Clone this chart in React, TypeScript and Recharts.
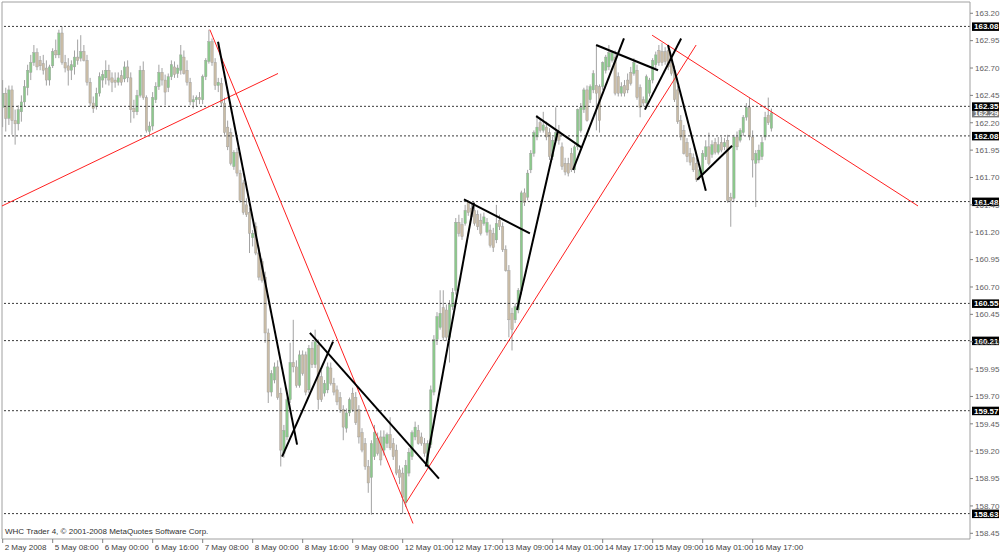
import React from 'react';
import { ComposedChart, Bar, XAxis, YAxis, ReferenceLine } from 'recharts';

type Ohlc = [number, number, number, number];

// hourly candles, [open, high, low, close]
const may2: Ohlc[] = [
  [162.34, 162.59, 162.16, 162.47], [162.47, 162.52, 162.12, 162.24], [162.24, 162.54, 162.18, 162.50],
  [162.50, 162.54, 162.09, 162.22], [162.22, 162.32, 162.00, 162.19], [162.19, 162.36, 162.13, 162.32],
  [162.30, 162.45, 162.21, 162.39], [162.39, 162.59, 162.35, 162.53],
];
const may5: Ohlc[] = [
  [162.52, 162.73, 162.45, 162.68], [162.66, 162.82, 162.59, 162.75], [162.75, 162.91, 162.72, 162.84],
  [162.84, 162.88, 162.68, 162.71], [162.77, 162.81, 162.68, 162.72], [162.74, 162.82, 162.64, 162.68],
  [162.70, 162.77, 162.54, 162.59], [162.59, 162.73, 162.54, 162.71], [162.72, 162.88, 162.70, 162.85],
  [162.86, 162.96, 162.79, 162.82], [162.82, 163.05, 162.79, 163.02], [163.02, 163.08, 162.73, 162.75],
  [162.75, 162.82, 162.66, 162.70], [162.72, 162.79, 162.54, 162.68], [162.68, 162.77, 162.59, 162.73],
  [162.71, 162.86, 162.64, 162.80], [162.80, 162.96, 162.73, 162.77], [162.79, 163.00, 162.76, 162.85],
  [162.85, 162.91, 162.76, 162.77], [162.77, 162.82, 162.54, 162.57], [162.57, 162.61, 162.35, 162.38],
  [162.38, 162.44, 162.29, 162.33], [162.35, 162.52, 162.32, 162.47], [162.47, 162.66, 162.44, 162.62],
];
const may6: Ohlc[] = [
  [162.59, 162.68, 162.52, 162.64], [162.61, 162.77, 162.55, 162.68], [162.68, 162.73, 162.54, 162.59],
  [162.61, 162.66, 162.48, 162.57], [162.59, 162.66, 162.52, 162.57], [162.57, 162.66, 162.54, 162.61],
  [162.63, 162.68, 162.54, 162.57], [162.60, 162.76, 162.57, 162.71], [162.71, 162.77, 162.57, 162.61],
  [162.61, 162.66, 162.20, 162.32], [162.33, 162.41, 162.24, 162.30], [162.30, 162.50, 162.27, 162.45],
  [162.45, 162.72, 162.43, 162.68], [162.68, 162.76, 162.41, 162.43], [162.43, 162.45, 162.11, 162.13],
  [162.12, 162.21, 162.09, 162.17], [162.17, 162.48, 162.13, 162.43], [162.41, 162.57, 162.38, 162.53],
  [162.53, 162.73, 162.50, 162.66], [162.66, 162.70, 162.54, 162.59], [162.59, 162.64, 162.36, 162.48],
  [162.52, 162.65, 162.48, 162.62], [162.62, 162.77, 162.59, 162.73], [162.71, 162.76, 162.61, 162.64],
];
const may7: Ohlc[] = [
  [162.65, 162.73, 162.61, 162.70], [162.68, 162.91, 162.64, 162.82], [162.80, 162.86, 162.64, 162.65],
  [162.68, 162.77, 162.54, 162.57], [162.57, 162.61, 162.36, 162.39], [162.39, 162.45, 162.33, 162.41],
  [162.41, 162.45, 162.35, 162.43], [162.43, 162.48, 162.37, 162.41], [162.41, 162.64, 162.37, 162.62],
  [162.62, 162.79, 162.59, 162.77], [162.76, 163.05, 162.74, 162.94], [162.94, 162.97, 162.72, 162.75],
  [162.75, 162.79, 162.50, 162.54], [162.54, 162.61, 162.48, 162.57], [162.56, 162.61, 162.35, 162.38],
  [162.38, 162.43, 162.09, 162.11], [162.16, 162.22, 161.95, 161.98], [162.11, 162.15, 161.81, 161.83],
  [161.80, 161.95, 161.77, 161.93], [161.93, 161.97, 161.71, 161.74], [161.74, 161.77, 161.47, 161.49],
  [161.65, 161.68, 161.36, 161.38], [161.45, 161.51, 161.34, 161.36], [161.38, 161.42, 161.01, 161.19],
];
const may8: Ohlc[] = [
  [161.15, 161.22, 161.07, 161.19], [161.25, 161.29, 160.99, 161.01], [161.01, 161.06, 160.76, 160.79],
  [160.93, 160.96, 160.74, 160.76], [160.79, 160.84, 160.19, 160.28], [160.28, 160.32, 159.64, 159.74],
  [159.74, 159.94, 159.70, 159.91], [159.85, 160.01, 159.82, 159.97], [159.97, 160.03, 159.67, 159.69],
  [159.73, 159.78, 159.06, 159.21], [159.18, 159.44, 159.14, 159.39], [159.33, 159.69, 159.30, 159.67],
  [159.67, 160.19, 159.64, 160.01], [160.01, 160.40, 159.92, 159.97], [159.97, 160.03, 159.78, 159.80],
  [159.80, 160.12, 159.78, 160.08], [160.08, 160.12, 159.89, 159.91], [160.08, 160.11, 159.71, 159.74],
  [159.76, 160.17, 159.73, 160.14], [160.14, 160.20, 159.96, 159.99], [159.99, 160.31, 159.96, 160.20],
  [160.17, 160.22, 159.58, 159.67], [159.88, 159.94, 159.65, 159.67], [159.73, 159.85, 159.70, 159.82],
];
const may9: Ohlc[] = [
  [159.76, 160.01, 159.73, 159.97], [159.96, 160.01, 159.80, 159.82], [159.82, 159.87, 159.71, 159.74],
  [159.76, 159.80, 159.62, 159.65], [159.69, 159.74, 159.55, 159.58], [159.58, 159.62, 159.30, 159.42],
  [159.41, 159.59, 159.37, 159.55], [159.55, 159.69, 159.52, 159.67], [159.73, 159.78, 159.56, 159.58],
  [159.69, 159.74, 159.44, 159.46], [159.58, 159.62, 159.27, 159.33], [159.37, 159.41, 159.19, 159.21],
  [159.27, 159.32, 159.03, 159.06], [159.06, 159.12, 158.82, 158.91], [158.96, 159.30, 158.62, 159.27],
  [159.15, 159.44, 159.12, 159.37], [159.32, 159.37, 159.16, 159.18], [159.33, 159.39, 159.07, 159.12],
  [159.21, 159.39, 159.16, 159.33], [159.27, 159.37, 159.23, 159.35], [159.35, 159.51, 159.21, 159.23],
  [159.27, 159.32, 159.12, 159.15], [159.21, 159.26, 158.98, 159.00], [159.03, 159.07, 158.90, 158.96],
];
const may12: Ohlc[] = [
  [159.00, 159.05, 158.63, 158.78], [158.73, 159.12, 158.69, 159.07], [159.00, 159.23, 158.97, 159.19],
  [159.15, 159.39, 159.12, 159.37], [159.33, 159.47, 159.30, 159.42], [159.39, 159.44, 159.26, 159.27],
  [159.33, 159.37, 159.25, 159.27], [159.27, 159.32, 159.15, 159.18], [159.07, 159.30, 159.05, 159.27],
  [159.26, 159.80, 159.23, 159.76], [159.74, 160.26, 159.71, 160.22], [160.22, 160.47, 160.17, 160.43],
  [160.33, 160.67, 160.31, 160.46], [160.51, 160.67, 160.21, 160.24], [160.49, 160.54, 160.21, 160.24],
  [160.24, 160.58, 160.01, 160.54], [160.52, 160.69, 160.49, 160.65], [160.67, 161.33, 160.63, 161.29],
  [161.29, 161.36, 161.16, 161.19], [161.27, 161.33, 161.13, 161.16], [161.28, 161.45, 161.26, 161.40],
  [161.48, 161.49, 161.35, 161.38], [161.42, 161.46, 161.31, 161.34],
];
const may13: Ohlc[] = [
  [161.40, 161.44, 161.26, 161.28], [161.36, 161.40, 161.22, 161.25], [161.31, 161.37, 161.17, 161.19],
  [161.28, 161.38, 161.26, 161.34], [161.20, 161.33, 161.17, 161.29], [161.22, 161.27, 161.06, 161.08],
  [161.19, 161.24, 161.02, 161.06], [161.13, 161.45, 161.10, 161.28], [161.31, 161.36, 161.22, 161.25],
  [161.25, 161.29, 161.02, 161.04], [161.04, 161.08, 160.84, 160.85], [160.85, 160.90, 160.24, 160.40],
  [160.46, 160.51, 160.12, 160.31], [160.40, 160.55, 160.37, 160.52], [160.49, 160.69, 160.46, 160.67],
  [160.67, 161.58, 160.63, 161.56], [161.56, 161.60, 161.44, 161.47], [161.52, 161.77, 161.49, 161.74],
  [161.77, 161.95, 161.74, 161.92], [161.92, 162.13, 161.89, 162.11], [162.07, 162.27, 162.04, 162.16],
  [162.20, 162.24, 162.11, 162.13], [162.13, 162.30, 162.11, 162.18], [162.16, 162.21, 162.04, 162.07],
];
const may14: Ohlc[] = [
  [162.11, 162.15, 161.86, 161.89], [161.89, 162.07, 161.86, 162.04], [162.04, 162.34, 162.02, 162.11],
  [162.12, 162.18, 162.00, 162.04], [161.98, 162.02, 161.77, 161.80], [161.83, 161.88, 161.72, 161.75],
  [161.83, 161.88, 161.71, 161.74], [161.92, 161.97, 161.75, 161.77], [161.77, 162.00, 161.74, 161.98],
  [161.98, 162.33, 161.95, 162.32], [162.13, 162.38, 162.11, 162.34], [162.32, 162.52, 162.29, 162.50],
  [162.50, 162.54, 162.21, 162.22], [162.41, 162.55, 162.38, 162.53], [162.50, 162.68, 162.47, 162.65],
  [162.54, 162.91, 162.13, 162.47], [162.53, 162.55, 162.11, 162.22], [162.53, 162.76, 162.50, 162.75],
  [162.68, 162.82, 162.65, 162.80], [162.71, 162.91, 162.68, 162.84], [162.77, 162.86, 162.75, 162.84],
  [162.80, 162.86, 162.45, 162.47], [162.62, 162.66, 162.44, 162.47], [162.47, 162.57, 162.44, 162.53],
];
const may15: Ohlc[] = [
  [162.54, 162.59, 162.44, 162.47], [162.59, 162.65, 162.47, 162.50], [162.66, 162.71, 162.54, 162.56],
  [162.65, 162.79, 162.63, 162.75], [162.68, 162.73, 162.41, 162.43], [162.52, 162.55, 162.25, 162.34],
  [162.41, 162.44, 162.35, 162.38], [162.38, 162.64, 162.35, 162.62], [162.47, 162.61, 162.44, 162.59],
  [162.59, 162.79, 162.56, 162.77], [162.73, 162.85, 162.70, 162.82], [162.86, 162.91, 162.72, 162.75],
  [162.85, 162.93, 162.72, 162.75], [162.85, 162.89, 162.73, 162.76], [162.86, 162.91, 162.68, 162.71],
  [162.75, 162.79, 162.63, 162.65], [162.68, 162.72, 162.39, 162.41], [162.50, 162.54, 162.19, 162.21],
  [162.22, 162.27, 162.04, 162.07], [162.13, 162.18, 161.91, 161.92], [162.02, 162.06, 161.84, 161.89],
  [161.92, 161.97, 161.81, 161.84], [161.88, 161.92, 161.75, 161.77], [161.83, 161.88, 161.66, 161.68],
];
const may16: Ohlc[] = [
  [161.70, 161.81, 161.68, 161.77], [161.74, 161.95, 161.71, 161.92], [161.89, 162.04, 161.86, 161.98],
  [161.98, 162.11, 161.81, 161.83], [161.91, 162.04, 161.88, 162.00], [162.02, 162.06, 161.91, 161.93],
  [161.93, 162.07, 161.91, 162.00], [162.02, 162.07, 161.93, 161.95], [161.98, 162.06, 161.95, 162.02],
  [162.04, 162.09, 161.47, 161.49], [161.52, 161.56, 161.25, 161.49], [161.51, 162.09, 161.48, 162.07],
  [162.07, 162.12, 161.95, 161.98], [162.04, 162.15, 162.02, 162.13], [162.11, 162.27, 162.08, 162.25],
  [162.25, 162.38, 162.22, 162.34], [162.34, 162.43, 162.04, 162.07], [162.07, 162.13, 161.70, 161.86],
  [161.83, 161.95, 161.43, 161.92], [161.86, 162.00, 161.83, 161.95], [161.89, 162.07, 161.86, 162.02],
  [162.07, 162.30, 162.04, 162.25], [162.27, 162.43, 162.18, 162.20], [162.15, 162.33, 162.12, 162.29],
];

const timeLabels = [
  '2 May 2008', '5 May 08:00', '6 May 00:00', '6 May 16:00', '7 May 08:00', '8 May 00:00',
  '8 May 16:00', '9 May 08:00', '12 May 01:00', '12 May 17:00', '13 May 09:00', '14 May 01:00',
  '14 May 17:00', '15 May 09:00', '16 May 01:00', '16 May 17:00',
];
const timeTicks = [0, 16, 32, 48, 64, 80, 96, 112, 128, 144, 160, 176, 192, 208, 224, 240];

const priceTicks = [
  158.45, 158.7, 158.95, 159.2, 159.45, 159.7, 159.95, 160.2, 160.45, 160.7,
  160.95, 161.2, 161.45, 161.7, 161.95, 162.2, 162.45, 162.7, 162.95, 163.2,
];

// horizontal levels drawn by hand on the chart
const levels = [163.08, 162.35, 162.08, 161.48, 160.55, 160.21, 159.57, 158.63];
const bid = 162.29;

// trend lines: [bar, price, bar, price]
const redLines: [number, number, number, number][] = [
  [-0.22, 161.44, 88.1, 162.65],
  [66.3, 163.05, 131.3, 158.54],
  [129.1, 158.73, 221.9, 162.91],
  [207.8, 163.0, 292.9, 161.44],
];
const blackLines: [number, number, number, number][] = [
  [68.9, 162.94, 94.2, 159.26],
  [89.4, 159.15, 105.7, 160.2],
  [98.3, 160.28, 139.6, 158.95],
  [135.4, 159.06, 150.8, 161.47],
  [147.6, 161.5, 168.7, 161.19],
  [164.6, 160.49, 177.7, 162.13],
  [170.7, 162.26, 185.4, 161.97],
  [182.5, 161.77, 198.8, 162.97],
  [189.9, 162.91, 209.7, 162.68],
  [205.5, 162.32, 217.1, 162.97],
  [212.9, 162.91, 225.0, 161.58],
  [222.2, 161.68, 233.4, 161.99],
];

const days = [may2, may5, may6, may7, may8, may9, may12, may13, may14, may15, may16];
const bars = days.flat().map(([open, high, low, close], i) => ({
  i, open, high, low, close, range: [low, high],
}));

const FONT = '"Liberation Sans", Arial, sans-serif';
const UP = '#8cc98c';
const DOWN = '#c9bca6';
const WICK = '#a3a3a3';

const Candle = (props: any) => {
  const { x, y, width, height, payload } = props;
  if (!payload || !height) return null;
  const { open, high, low, close } = payload;
  const k = height / (high - low);
  const cx = x + width / 2;
  const yo = y + (high - open) * k;
  const yc = y + (high - close) * k;
  const top = Math.min(yo, yc);
  const h = Math.max(Math.abs(yc - yo), 1);
  return (
    <g>
      <line x1={cx} x2={cx} y1={y} y2={y + height} stroke={WICK} strokeWidth={1} />
      <rect x={cx - 1.2} y={top} width={2.4} height={h} fill={close >= open ? UP : DOWN} stroke="#9c9c9c" strokeWidth={0.4} />
    </g>
  );
};

const TimeTick = (props: any) => {
  const { x, payload } = props;
  const label = timeLabels[timeTicks.indexOf(payload.value)];
  return (
    <g>
      <line x1={x} x2={x} y1={539} y2={543} stroke="#808080" />
      <text x={x + 2} y={550} fontSize={8} fontFamily={FONT} fill="#404040" textAnchor="start">{label}</text>
    </g>
  );
};

const tag = (value: number, bg: string) => (p: any) => {
  const vb = p.viewBox || {};
  const x0 = (vb.x || 0) + (vb.width || 0) + 2;
  const y0 = vb.y || 0;
  return (
    <g>
      <rect x={x0} y={y0 - 4} width={27} height={8.5} fill={bg} />
      <text x={x0 + 2} y={y0 + 3} fontSize={8} fontWeight="bold" fontFamily={FONT} fill="#ffffff">{value.toFixed(2)}</text>
    </g>
  );
};

export default function App() {
  return (
    <div style={{ position: 'absolute', left: 0, top: 0, width: 1000, height: 553, background: '#fff' }}>
      <ComposedChart width={1000} height={553} data={bars} margin={{ top: 2, right: 0, bottom: 0, left: 2 }}>
        <XAxis
          dataKey="i"
          type="number"
          domain={[-0.224, 309.536]}
          allowDataOverflow
          ticks={timeTicks}
          interval={0}
          tick={<TimeTick />}
          tickLine={false}
          height={14}
          axisLine={{ stroke: '#a0a0a0' }}
        />
        <YAxis
          orientation="right"
          type="number"
          domain={[158.398, 163.303]}
          allowDataOverflow
          ticks={priceTicks}
          interval={0}
          width={30}
          tickSize={3}
          tickFormatter={(v: number) => v.toFixed(2)}
          tick={{ fontSize: 8, fontFamily: FONT, fill: '#606060' }}
          tickLine={{ stroke: '#808080' }}
          axisLine={{ stroke: '#a0a0a0' }}
        />
        <ReferenceLine x={-0.224} stroke="#a0a0a0" ifOverflow="visible" />
        <ReferenceLine y={163.303} stroke="#a0a0a0" ifOverflow="visible" />
        <ReferenceLine y={bid} stroke="none" ifOverflow="visible" label={tag(bid, '#7a7a7a')} />
        {levels.map((v) => (
          <ReferenceLine key={v} y={v} stroke="#3a3a3a" strokeDasharray="2 2" ifOverflow="visible" label={tag(v, '#000000')} />
        ))}
        <Bar dataKey="range" barSize={3} shape={<Candle />} isAnimationActive={false} />
        {redLines.map(([x1, y1, x2, y2], k) => (
          <ReferenceLine key={'r' + k} segment={[{ x: x1, y: y1 }, { x: x2, y: y2 }]} stroke="#ff2020" strokeWidth={1} ifOverflow="visible" />
        ))}
        {blackLines.map(([x1, y1, x2, y2], k) => (
          <ReferenceLine key={'b' + k} segment={[{ x: x1, y: y1 }, { x: x2, y: y2 }]} stroke="#000000" strokeWidth={2} ifOverflow="visible" />
        ))}
      </ComposedChart>
      <div style={{ position: 'absolute', left: 5, top: 527, fontSize: 8, fontFamily: FONT, color: '#303030', whiteSpace: 'nowrap' }}>
        WHC Trader 4, © 2001-2008 MetaQuotes Software Corp.
      </div>
    </div>
  );
}
